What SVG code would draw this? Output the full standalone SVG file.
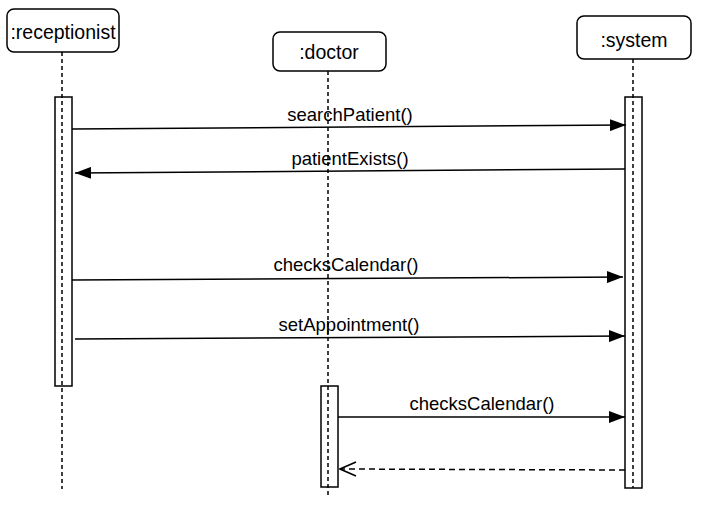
<svg xmlns="http://www.w3.org/2000/svg" width="710" height="515" viewBox="0 0 710 515">
<style>
.box{fill:#fff;stroke:#000;stroke-width:1.5}
.act{fill:#fff;stroke:#000;stroke-width:1.5}
.life{stroke:#000;stroke-width:1.5;stroke-dasharray:4 3;fill:none}
.msg{stroke:#000;stroke-width:1.5;fill:none}
.ret{stroke:#000;stroke-width:1.5;fill:none;stroke-dasharray:6 4}
.t{font-family:"Liberation Sans",Arial,sans-serif;font-size:19.5px;fill:#000;text-anchor:middle}
.l{font-family:"Liberation Sans",Arial,sans-serif;font-size:18.5px;fill:#000;text-anchor:middle}
</style>
<defs>
<marker id="fill" markerWidth="16" markerHeight="12" refX="16" refY="6" orient="auto" markerUnits="userSpaceOnUse">
<path d="M0,0 L16,6 L0,12 Z" fill="#000"/>
</marker>
<marker id="open" markerWidth="18" markerHeight="16" refX="17" refY="8" orient="auto" markerUnits="userSpaceOnUse">
<path d="M1,1 L17,8 L1,15" fill="none" stroke="#000" stroke-width="1.5"/>
</marker>
</defs>
<g id="receptionist">
<rect class="box" x="7" y="9" width="112" height="43" rx="7"/>
<text class="t" x="63" y="39">:receptionist</text>
<rect class="act" x="55" y="97" width="17" height="289"/>
<line class="life" x1="62" y1="52" x2="62" y2="489"/>
</g>
<g id="doctor">
<rect class="box" x="273" y="32" width="113" height="39" rx="7"/>
<text class="t" x="329" y="59">:doctor</text>
<rect class="act" x="321" y="386" width="17" height="101"/>
<line class="life" x1="328" y1="71" x2="328" y2="495"/>
</g>
<g id="system">
<rect class="box" x="577" y="16" width="114" height="43" rx="7"/>
<text class="t" x="634" y="47">:system</text>
<rect class="act" x="625" y="97" width="17" height="391"/>
<line class="life" x1="633" y1="59" x2="633" y2="488"/>
</g>
<g id="connectors">
<line class="msg" x1="72" y1="129" x2="626" y2="125" marker-end="url(#fill)"/>
<text class="l" x="350" y="121">searchPatient()</text>
<line class="msg" x1="625" y1="169" x2="75" y2="173" marker-end="url(#fill)"/>
<text class="l" x="350" y="165">patientExists()</text>
<line class="msg" x1="72" y1="280" x2="623" y2="277" marker-end="url(#fill)"/>
<text class="l" x="346" y="271">checksCalendar()</text>
<line class="msg" x1="75" y1="339" x2="625" y2="336" marker-end="url(#fill)"/>
<text class="l" x="349" y="331">setAppointment()</text>
<line class="msg" x1="338" y1="417" x2="625" y2="417" marker-end="url(#fill)"/>
<text class="l" x="482" y="410">checksCalendar()</text>
<line class="ret" x1="625" y1="470" x2="340" y2="469" marker-end="url(#open)"/>
</g>
</svg>
